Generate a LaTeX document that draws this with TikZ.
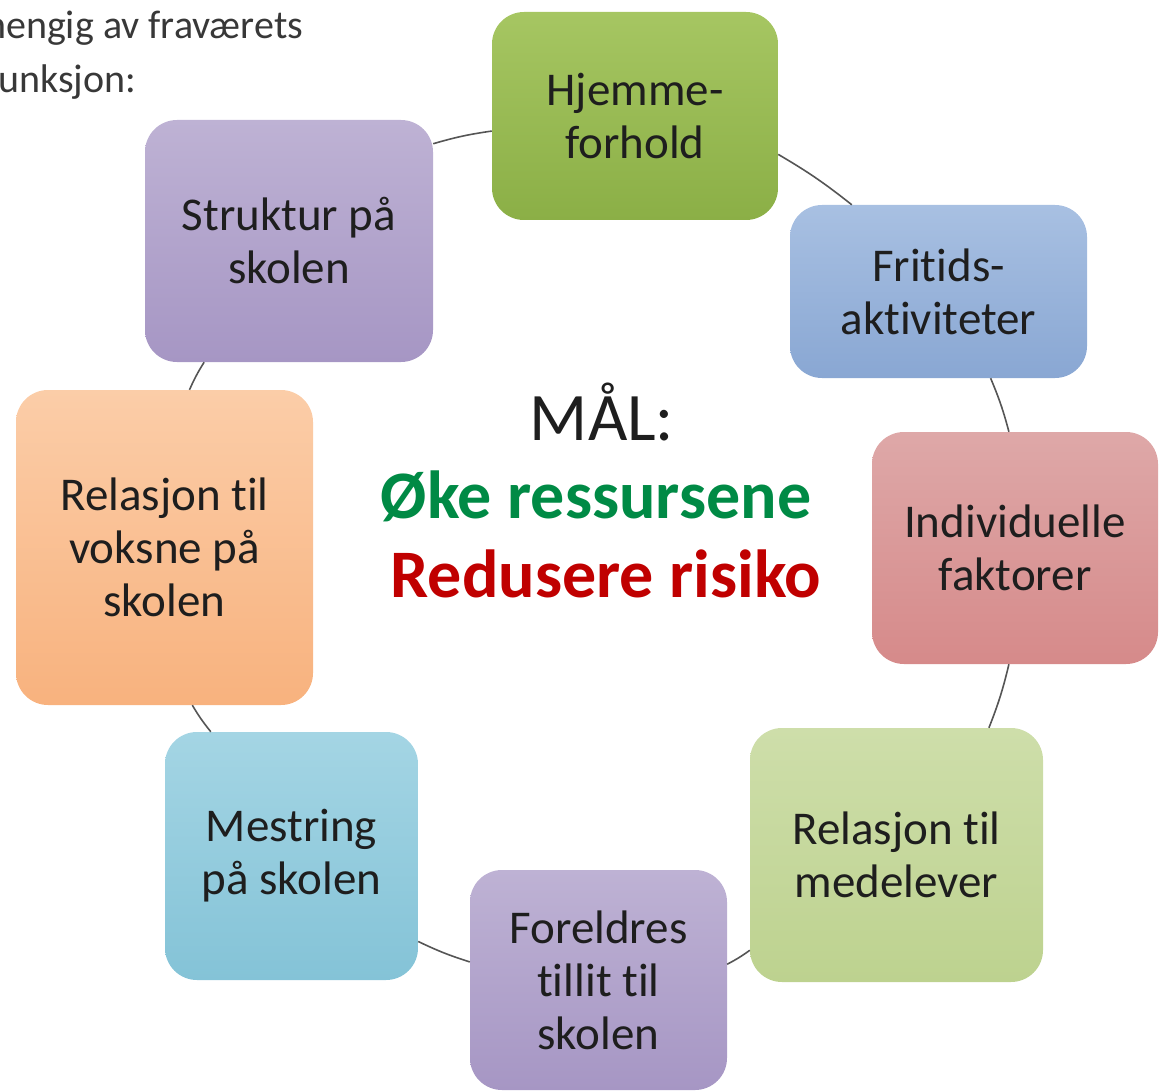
\documentclass[tikz,border=0pt]{standalone}
\usepackage{fontspec}
\setmainfont{Carlito}[Ligatures=NoCommon]
\definecolor{txtdark}{HTML}{1E1E1E}
\definecolor{okegreen}{HTML}{008A45}
\definecolor{riskred}{HTML}{C00000}
\definecolor{conncol}{HTML}{555555}
\begin{document}
\begin{tikzpicture}[x=1pt,y=-1pt,
  box/.style={rounded corners=32pt, inner sep=0pt, align=center,
    font=\fontsize{47}{53}\selectfont, text=txtdark},
  conn/.style={draw=conncol, line width=1.6pt, bend left=4},
  toptext/.style={anchor=base west, inner sep=0pt, text=black!78,
    font=\fontsize{40}{48}\selectfont}]
\useasboundingbox (0,0) rectangle (1161,1091);

% boxes
\node[box, minimum width=286pt, minimum height=208pt,
  top color={rgb,255:red,166;green,198;blue,98}, bottom color={rgb,255:red,139;green,175;blue,70}]
  (hjem) at (635,116) {Hjemme-\\forhold};
\node[box, minimum width=297pt, minimum height=173pt,
  top color={rgb,255:red,168;green,192;blue,226}, bottom color={rgb,255:red,137;green,167;blue,211}]
  (frit) at (938.5,291.5) {Fritids-\\aktiviteter};
\node[box, minimum width=286pt, minimum height=232pt,
  top color={rgb,255:red,222;green,168;blue,168}, bottom color={rgb,255:red,214;green,138;blue,138}]
  (indiv) at (1015,548) {Individuelle\\faktorer};
\node[box, minimum width=293pt, minimum height=254pt,
  top color={rgb,255:red,206;green,222;blue,170}, bottom color={rgb,255:red,189;green,210;blue,143}]
  (medel) at (896.5,855) {Relasjon til\\medelever};
\node[box, minimum width=257pt, minimum height=220pt,
  top color={rgb,255:red,190;green,178;blue,212}, bottom color={rgb,255:red,166;green,150;blue,196}]
  (foreld) at (598.5,980) {Foreldres\\tillit til\\skolen};
\node[box, minimum width=253pt, minimum height=248pt,
  top color={rgb,255:red,164;green,213;blue,228}, bottom color={rgb,255:red,132;green,195;blue,215}]
  (mest) at (291.5,856) {Mestring\\på skolen};
\node[box, minimum width=297pt, minimum height=315pt,
  top color={rgb,255:red,251;green,205;blue,168}, bottom color={rgb,255:red,248;green,178;blue,126}]
  (voksne) at (164.5,547.5) {Relasjon til\\voksne på\\skolen};
\node[box, minimum width=288pt, minimum height=242pt,
  top color={rgb,255:red,190;green,178;blue,212}, bottom color={rgb,255:red,166;green,150;blue,196}]
  (struk) at (289,241) {Struktur på\\skolen};

% connectors (cycle)
\draw[conn] (struk.34) to (hjem.186);
\draw[conn] (hjem.345) to (frit.135);
\draw[conn] (frit.301) to (indiv.93);
\draw[conn] (indiv.267) to (medel.54.5);
\draw[conn] (medel.213) to (foreld.7);
\draw[conn] (foreld.172) to (mest.326);
\draw[conn] (mest.123) to (voksne.280);
\draw[conn] (voksne.81) to (struk.235);

% centre text
\node[anchor=base, inner sep=0pt, text=txtdark, font=\fontsize{68}{80}\selectfont]
  (maal) at (602,440) {MÅL:};
\node[anchor=base, inner sep=0pt, text=okegreen, font=\fontsize{68}{80}\selectfont\bfseries]
  (oke) at (596,518) {Øke ressursene};
\node[anchor=base, inner sep=0pt, text=riskred, font=\fontsize{68}{80}\selectfont\bfseries]
  (redu) at (606,597) {Redusere risiko};

% cut-off text top left (cut as in the reference)
\begin{scope}
\clip (0,0) rectangle (1161,1091);
\node[toptext] (tl1) at (-15,39) {hengig av fraværets};
\node[toptext] (tl2) at (-2,93) {unksjon:};
\end{scope}
\end{tikzpicture}
\end{document}
